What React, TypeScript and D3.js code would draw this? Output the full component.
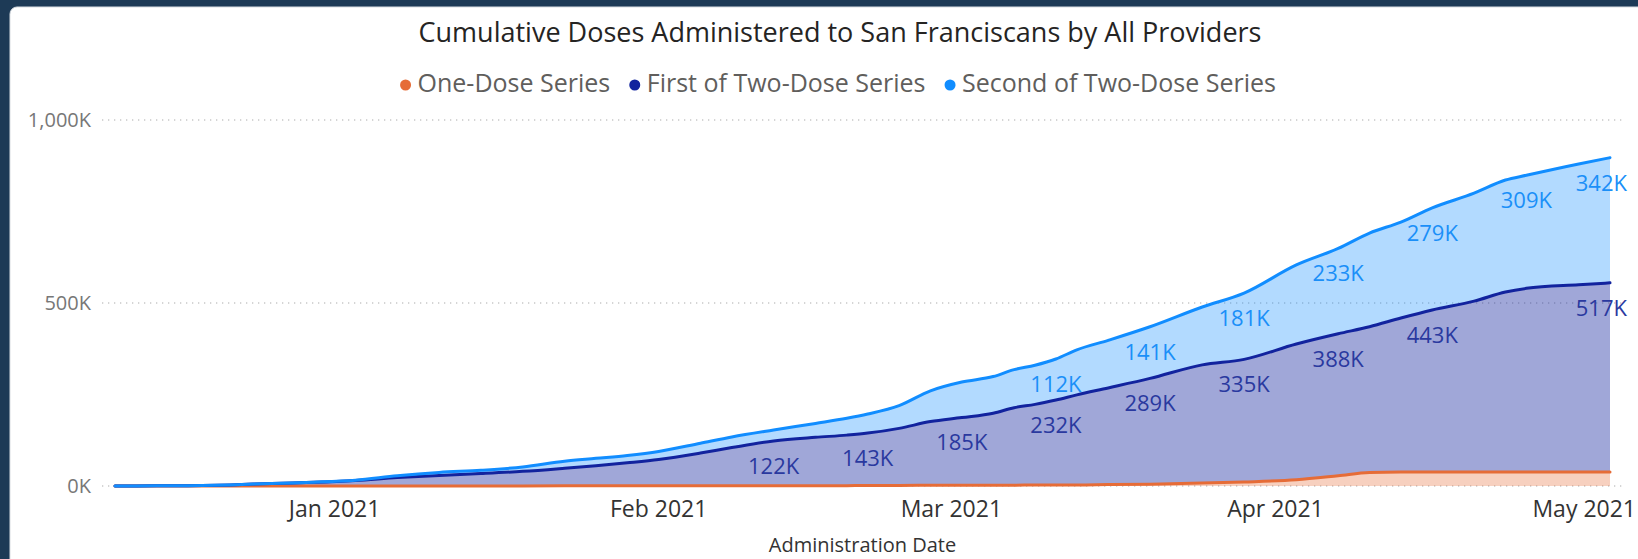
import React, { useEffect, useRef } from "react";
import * as d3 from "d3";

// cumulative doses, thousands
const dates = [
  "2020-12-11", "2020-12-15", "2020-12-18", "2020-12-22", "2020-12-26", "2020-12-30",
  "2021-01-03", "2021-01-07", "2021-01-11", "2021-01-15", "2021-01-19", "2021-01-23",
  "2021-01-26", "2021-01-29", "2021-02-01", "2021-02-05", "2021-02-08", "2021-02-12",
  "2021-02-16", "2021-02-19", "2021-02-21", "2021-02-24", "2021-02-27", "2021-03-02",
  "2021-03-05", "2021-03-07", "2021-03-09", "2021-03-11", "2021-03-13", "2021-03-16",
  "2021-03-20", "2021-03-25", "2021-03-29", "2021-04-03", "2021-04-07", "2021-04-10",
  "2021-04-13", "2021-04-16", "2021-04-20", "2021-04-23", "2021-04-25", "2021-04-30",
  "2021-05-03",
];
const oneDose = [
  0, 0, 0, 0, 0, 0,
  0, 0, 0, 0, 0, 0.5,
  0.5, 0.5, 0.5, 1, 1, 1,
  1, 1, 1.5, 1.5, 2, 2,
  2, 2, 3, 3, 3, 4,
  5, 8, 11, 17, 28, 37,
  38, 38, 38, 38, 38, 38,
  38,
];
const firstOfTwo = [
  0, 0.5, 1, 3, 7, 10,
  15, 23, 29, 34, 40, 48,
  55, 63, 72, 89, 104, 122,
  132, 138, 143, 156, 174, 185,
  197, 212, 220, 232, 246, 264,
  289, 323, 335, 371, 388, 398,
  421, 443, 467, 492, 502, 512,
  517,
];
const secondOfTwo = [
  0, 0, 0, 0, 0, 0.5,
  1, 5, 8, 9, 12, 19,
  20, 20, 22, 27, 29, 30,
  38, 46, 52, 62, 84, 97,
  100, 104, 107, 112, 123, 130,
  141, 158, 181, 216, 233, 256,
  262, 279, 295, 306, 309, 330,
  342,
];

const firstLabelDates = [
  "2021-02-12", "2021-02-21", "2021-03-02", "2021-03-11", "2021-03-20",
  "2021-03-29", "2021-04-07", "2021-04-16", "2021-05-03",
];
const secondLabelDates = [
  "2021-03-11", "2021-03-20", "2021-03-29", "2021-04-07", "2021-04-16",
  "2021-04-25", "2021-05-03",
];

const seriesNames = ["One-Dose Series", "First of Two-Dose Series", "Second of Two-Dose Series"];
const seriesColors = ["#E66C37", "#12239E", "#118DFF"];
const fillOpacity = [0.32, 0.4, 0.32];

const yTicks = [0, 500, 1000];
const xTickDates = ["2021-01-01", "2021-02-01", "2021-03-01", "2021-04-01", "2021-05-01"];
const xTickLabels = ["Jan 2021", "Feb 2021", "Mar 2021", "Apr 2021", "May 2021"];

const FONT = "'Open Sans', sans-serif";

function measure(text: string, size: number) {
  const c = document.createElement("canvas").getContext("2d")!;
  c.font = size + "px 'Open Sans'";
  return c.measureText(text).width;
}

export default function App() {
  const ref = useRef<SVGSVGElement>(null);

  useEffect(() => {
    const W = 1638,
      H = 559;
    const svg = d3.select(ref.current);
    svg.selectAll("*").remove();

    const parse = d3.timeParse("%Y-%m-%d");
    const rows = dates.map((d, i) => ({
      date: parse(d) as Date,
      one: oneDose[i],
      first: firstOfTwo[i],
      second: secondOfTwo[i],
    }));

    const plotLeft = 115,
      plotRight = 1610;
    const x = d3
      .scaleTime()
      .domain(d3.extent(rows, (d) => d.date) as [Date, Date])
      .range([plotLeft, plotRight]);
    const y = d3.scaleLinear().domain([0, 1000]).range([486, 120]);

    // frame
    svg.append("rect").attr("width", W).attr("height", H).attr("fill", "#1d3a56");
    svg
      .append("rect")
      .attr("x", 10)
      .attr("y", 7)
      .attr("width", W)
      .attr("height", H)
      .attr("rx", 7)
      .attr("fill", "#ffffff")
      .attr("stroke", "#d9dde2")
      .attr("stroke-width", 1);

    // title
    svg
      .append("text")
      .attr("x", 840)
      .attr("y", 42)
      .attr("text-anchor", "middle")
      .attr("font-family", FONT)
      .attr("font-size", 27)
      .attr("fill", "#252423")
      .text("Cumulative Doses Administered to San Franciscans by All Providers");

    // legend
    const legendSize = 25;
    const widths = seriesNames.map((n) => measure(n, legendSize));
    const r = 5.5,
      dotGap = 12,
      itemGap = 19;
    const total = d3.sum(widths) + seriesNames.length * (r + dotGap) + (seriesNames.length - 1) * itemGap;
    let lx = 838 - total / 2;
    const legend = svg.append("g");
    seriesNames.forEach((n, i) => {
      legend.append("circle").attr("cx", lx + r).attr("cy", 85).attr("r", r).attr("fill", seriesColors[i]);
      legend
        .append("text")
        .attr("x", lx + r + dotGap)
        .attr("y", 92)
        .attr("font-family", FONT)
        .attr("font-size", legendSize)
        .attr("fill", "#605E5C")
        .text(n);
      lx += r + dotGap + widths[i] + itemGap;
    });

    // gridlines + y ticks
    const grid = svg.append("g");
    yTicks.forEach((t) => {
      grid
        .append("line")
        .attr("x1", 102)
        .attr("x2", 1626)
        .attr("y1", y(t))
        .attr("y2", y(t))
        .attr("stroke", "#c8c8c8")
        .attr("stroke-width", 1.3)
        .attr("stroke-dasharray", "1.3,4.7");
      grid
        .append("text")
        .attr("x", 91)
        .attr("y", y(t))
        .attr("dy", "0.36em")
        .attr("text-anchor", "end")
        .attr("font-family", FONT)
        .attr("font-size", 20)
        .attr("fill", "#777777")
        .text(d3.format(",")(t) + "K");
    });

    // stacked areas
    const stack = d3.stack<any>().keys(["one", "first", "second"]);
    const layers = stack(rows);
    const area = d3
      .area<any>()
      .x((d) => x(d.data.date))
      .y0((d) => y(d[0]))
      .y1((d) => y(d[1]))
      .curve(d3.curveMonotoneX);
    const line = d3
      .line<any>()
      .x((d) => x(d.data.date))
      .y((d) => y(d[1]))
      .curve(d3.curveMonotoneX);

    svg
      .append("g")
      .selectAll("path")
      .data(layers)
      .enter()
      .append("path")
      .attr("d", area as any)
      .attr("fill", (d, i) => seriesColors[i])
      .attr("fill-opacity", (d, i) => fillOpacity[i]);

    svg
      .append("g")
      .selectAll("path")
      .data(layers)
      .enter()
      .append("path")
      .attr("d", line as any)
      .attr("fill", "none")
      .attr("stroke", (d, i) => seriesColors[i])
      .attr("stroke-width", 3)
      .attr("stroke-linejoin", "round")
      .attr("stroke-linecap", "round");

    // data labels
    const labelSize = 22;
    const labelRight = 1627;
    const labels = svg.append("g");
    const addLabels = (list: string[], layerIdx: number, values: number[], color: string) => {
      list.forEach((ds) => {
        const i = dates.indexOf(ds);
        const top = layers[layerIdx][i][1];
        const txt = Math.round(values[i]) + "K";
        const w = measure(txt, labelSize);
        const cx = Math.min(x(rows[i].date), labelRight - w / 2);
        labels
          .append("text")
          .attr("x", cx)
          .attr("y", y(top) + 25)
          .attr("dy", "0.36em")
          .attr("text-anchor", "middle")
          .attr("font-family", FONT)
          .attr("font-size", labelSize)
          .attr("fill", color)
          .text(txt);
      });
    };
    addLabels(firstLabelDates, 1, firstOfTwo, "#2a399f");
    addLabels(secondLabelDates, 2, secondOfTwo, "#1a8ff8");

    // x axis labels
    const xg = svg.append("g");
    xTickDates.forEach((ds, i) => {
      const w = measure(xTickLabels[i], 23);
      const cx = Math.min(x(parse(ds) as Date), 1636 - w / 2);
      xg.append("text")
        .attr("x", cx)
        .attr("y", 517)
        .attr("text-anchor", "middle")
        .attr("font-family", FONT)
        .attr("font-size", 23)
        .attr("fill", "#333333")
        .text(xTickLabels[i]);
    });

    svg
      .append("text")
      .attr("x", (plotLeft + plotRight) / 2)
      .attr("y", 552)
      .attr("text-anchor", "middle")
      .attr("font-family", FONT)
      .attr("font-size", 20)
      .attr("fill", "#333333")
      .text("Administration Date");
  }, []);

  return (
    <svg
      ref={ref}
      width={1638}
      height={559}
      style={{ position: "absolute", left: 0, top: 0, display: "block" }}
    />
  );
}
